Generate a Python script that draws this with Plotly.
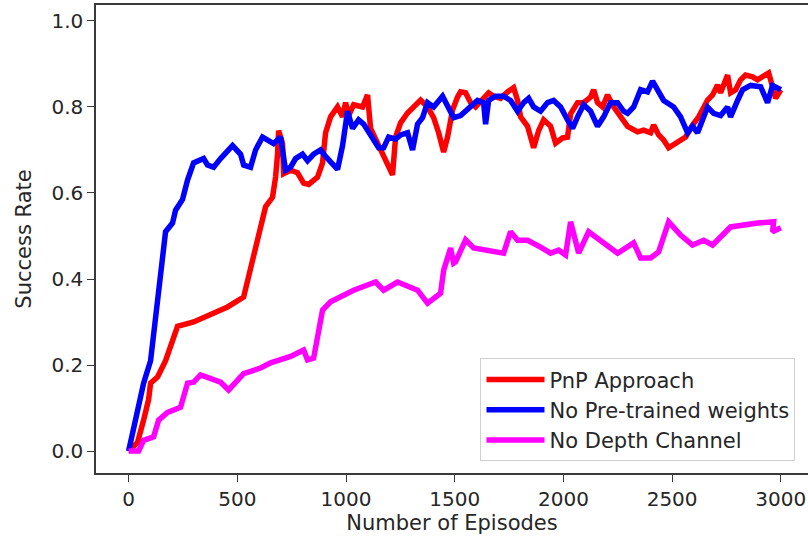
import plotly.graph_objects as go

# PnP Approach (red)
pnp_x = [0, 41, 69, 92, 101, 133, 170, 202, 225, 299, 377, 455, 529, 552, 575, 607, 630, 662, 676, 685, 690,
         708, 713, 745, 777, 805, 828, 869, 892, 906, 929, 961, 984, 998, 1012, 1035, 1076, 1099, 1113, 1145,
         1168, 1191, 1214, 1228, 1251, 1283, 1311, 1343, 1375, 1403, 1426, 1449, 1467, 1490, 1513, 1527, 1550,
         1573, 1596, 1656, 1679, 1711, 1743, 1771, 1789, 1803, 1835, 1863, 1886, 1909, 1941, 1964, 1996, 2019,
         2033, 2065, 2093, 2125, 2139, 2157, 2180, 2203, 2231, 2263, 2295, 2341, 2369, 2401, 2415, 2438, 2461,
         2484, 2516, 2562, 2594, 2622, 2663, 2686, 2709, 2723, 2755, 2769, 2792, 2815, 2838, 2870, 2893, 2921,
         2944, 2962, 2976, 3000]
pnp_y = [0.0, 0.02, 0.072, 0.12, 0.158, 0.172, 0.21, 0.258, 0.29, 0.30, 0.316, 0.335, 0.358, 0.405, 0.46, 0.52,
         0.568, 0.59, 0.637, 0.69, 0.745, 0.715, 0.645, 0.653, 0.647, 0.623, 0.62, 0.637, 0.67, 0.74, 0.777, 0.80,
         0.777, 0.81, 0.78, 0.805, 0.80, 0.828, 0.75, 0.716, 0.693, 0.67, 0.642, 0.73, 0.763, 0.786, 0.80, 0.816,
         0.80, 0.775, 0.74, 0.695, 0.73, 0.793, 0.823, 0.835, 0.833, 0.81, 0.80, 0.833, 0.825, 0.82, 0.835, 0.845,
         0.815, 0.777, 0.755, 0.705, 0.745, 0.77, 0.755, 0.716, 0.728, 0.73, 0.784, 0.81, 0.81, 0.823, 0.84, 0.81,
         0.80, 0.828, 0.80, 0.777, 0.755, 0.742, 0.746, 0.74, 0.758, 0.735, 0.723, 0.705, 0.716, 0.73, 0.758,
         0.777, 0.816, 0.828, 0.851, 0.833, 0.874, 0.833, 0.84, 0.863, 0.874, 0.87, 0.863, 0.874, 0.879, 0.847,
         0.82, 0.84]

# No Pre-trained weights (blue)
npt_x = [0, 9, 41, 69, 101, 115, 133, 156, 170, 202, 216, 248, 271, 299, 322, 345, 363, 391, 423, 478, 515, 529,
         561, 584, 616, 667, 699, 722, 745, 768, 800, 823, 851, 883, 906, 961, 984, 1007, 1030, 1058, 1081, 1104,
         1150, 1173, 1196, 1228, 1251, 1283, 1306, 1329, 1352, 1375, 1403, 1444, 1467, 1495, 1527, 1573, 1605,
         1633, 1642, 1656, 1688, 1725, 1757, 1789, 1817, 1840, 1863, 1895, 1927, 1955, 1987, 2019, 2042, 2065,
         2093, 2125, 2157, 2185, 2217, 2249, 2277, 2295, 2323, 2355, 2387, 2410, 2433, 2461, 2507, 2539, 2571,
         2594, 2617, 2640, 2663, 2691, 2723, 2755, 2769, 2801, 2824, 2861, 2907, 2939, 2962, 3000]
npt_y = [0.0, 0.02, 0.095, 0.158, 0.21, 0.27, 0.35, 0.43, 0.51, 0.53, 0.56, 0.585, 0.63, 0.67, 0.675, 0.68,
         0.665, 0.66, 0.68, 0.71, 0.69, 0.665, 0.66, 0.70, 0.73, 0.715, 0.73, 0.653, 0.66, 0.68, 0.69, 0.675,
         0.69, 0.70, 0.685, 0.655, 0.71, 0.79, 0.75, 0.77, 0.76, 0.74, 0.705, 0.705, 0.73, 0.725, 0.735, 0.74,
         0.70, 0.76, 0.775, 0.81, 0.80, 0.825, 0.80, 0.775, 0.78, 0.80, 0.815, 0.81, 0.76, 0.815, 0.825, 0.825,
         0.815, 0.79, 0.81, 0.82, 0.80, 0.79, 0.81, 0.815, 0.80, 0.77, 0.75, 0.777, 0.805, 0.79, 0.755, 0.777,
         0.81, 0.81, 0.79, 0.785, 0.80, 0.84, 0.835, 0.86, 0.84, 0.815, 0.80, 0.777, 0.74, 0.755, 0.74, 0.77,
         0.80, 0.785, 0.78, 0.80, 0.777, 0.815, 0.84, 0.85, 0.847, 0.81, 0.85, 0.84]

# No Depth Channel (magenta)
ndc_x = [0, 46, 69, 115, 138, 179, 239, 271, 299, 331, 423, 460, 529, 607, 653, 745, 805, 823, 851, 892, 929,
         1035, 1136, 1173, 1237, 1329, 1375, 1435, 1449, 1481, 1495, 1504, 1550, 1587, 1725, 1757, 1789, 1835,
         1895, 1941, 1978, 2010, 2033, 2070, 2116, 2180, 2249, 2323, 2355, 2401, 2438, 2484, 2539, 2594, 2645,
         2686, 2769, 2893, 2967, 2962, 3000]
ndc_y = [0.0, 0.0, 0.025, 0.033, 0.072, 0.09, 0.102, 0.158, 0.16, 0.177, 0.16, 0.142, 0.18, 0.193, 0.205, 0.22,
         0.235, 0.212, 0.216, 0.328, 0.347, 0.374, 0.393, 0.374, 0.393, 0.374, 0.344, 0.367, 0.42, 0.472, 0.437,
         0.44, 0.491, 0.472, 0.46, 0.51, 0.49, 0.49, 0.474, 0.46, 0.467, 0.456, 0.533, 0.46, 0.51, 0.484, 0.46,
         0.484, 0.449, 0.449, 0.463, 0.533, 0.502, 0.479, 0.49, 0.479, 0.521, 0.53, 0.533, 0.51, 0.519]

series = [
    ("PnP Approach", pnp_x, pnp_y, "#ff0000"),
    ("No Pre-trained weights", npt_x, npt_y, "#0000ff"),
    ("No Depth Channel", ndc_x, ndc_y, "#ff00ff"),
]

x_ticks = [0, 500, 1000, 1500, 2000, 2500, 3000]
y_ticks = [0.0, 0.2, 0.4, 0.6, 0.8, 1.0]

fig = go.Figure()
for name, xs, ys, col in series:
    fig.add_trace(go.Scatter(x=xs, y=ys, mode="lines", name=name,
                             line=dict(color=col, width=5.5)))

font_family = "DejaVu Sans"
text_col = "#262626"
axis_col = "#3a3a3a"
fsize = 20

fig.update_layout(
    width=808, height=544,
    margin=dict(l=96, r=0, t=5, b=71, autoexpand=False),
    paper_bgcolor="white", plot_bgcolor="white",
    font=dict(family=font_family, size=fsize, color=text_col),
    showlegend=True,
    legend=dict(x=0.54, y=0.245, xanchor="left", yanchor="top",
                bgcolor="rgba(255,255,255,0.9)", bordercolor="#d0d0d0", borderwidth=1,
                itemwidth=58,
                font=dict(size=21, color=text_col), tracegroupgap=0),
)
fig.update_xaxes(
    range=[-150, 3125], tickvals=x_ticks, ticktext=[str(v) for v in x_ticks],
    automargin=False,
    showgrid=False, zeroline=False, showline=True, linecolor=axis_col, linewidth=1.5,
    mirror=True, ticks="outside", ticklen=7, tickcolor=axis_col, tickwidth=1.2,
    tickfont=dict(size=fsize),
    title=dict(text="Number of Episodes", standoff=5, font=dict(size=21)),
)
fig.update_yaxes(
    range=[-0.051, 1.037], tickvals=y_ticks, ticktext=[f"{v:.1f}" for v in y_ticks],
    automargin=False,
    showgrid=False, zeroline=False, showline=True, linecolor=axis_col, linewidth=1.5,
    mirror=False, ticks="outside", ticklen=7, tickcolor=axis_col, tickwidth=1.2,
    tickfont=dict(size=fsize),
    title=dict(text="Success Rate", standoff=14, font=dict(size=21)),
)

fig.write_html("out.html", config={"displayModeBar": False},
               post_script="document.body.style.margin='0';document.body.style.overflow='hidden';")
